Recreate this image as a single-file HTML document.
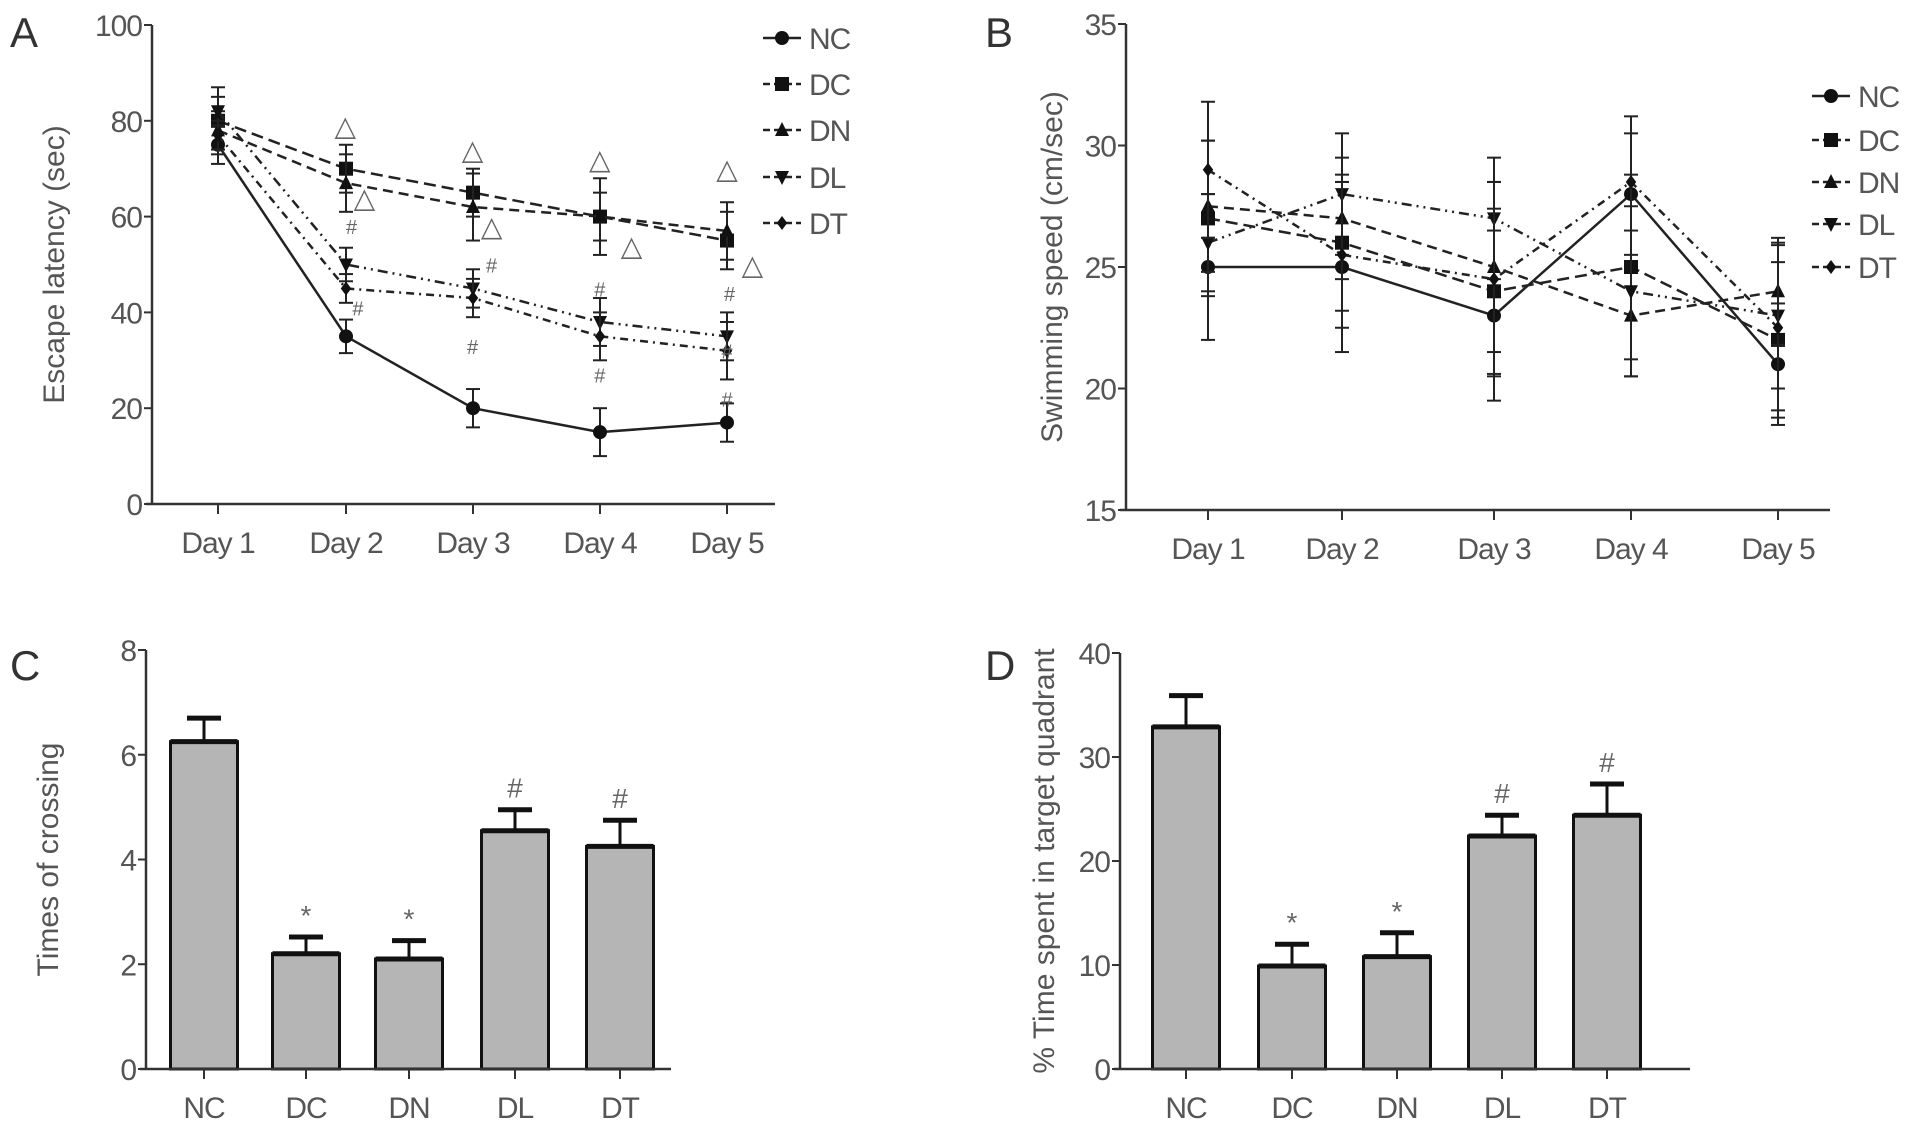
<!DOCTYPE html>
<html><head><meta charset="utf-8"><style>
html,body{margin:0;padding:0;background:#fff;}
svg{display:block;font-family:"Liberation Sans",sans-serif;}
</style></head><body>
<svg id="fig" width="1913" height="1131" viewBox="0 0 1913 1131"></svg>
<script>
const days = ["Day 1","Day 2","Day 3","Day 4","Day 5"];
const groups = ["NC","DC","DN","DL","DT"];
// Panel A escape latency
const aNC = [75,35,20,15,17], aNCe = [4,3.5,4,5,4];
const aDC = [80,70,65,60,55], aDCe = [7,5,5,8,6];
const aDN = [78,67,62,60,57], aDNe = [4,6,7,5,6];
const aDL = [82,50,45,38,35], aDLe = [3,3.5,4,5,5];
const aDT = [77,45,43,35,32], aDTe = [3,3,4,5,6];
const aTicks = [0,20,40,60,80,100];
// Panel B swimming speed
const bNC = [25,25,23,28,21], bNCe = [3,3.5,3.5,3.2,2.5];
const bDC = [27,26,24,25,22], bDCe = [3.2,2.8,3.4,3.8,3.2];
const bDN = [27.5,27,25,23,24], bDNe = [2.7,2.5,3.5,2.5,2.2];
const bDL = [26,28,27,24,23], bDLe = [2,2.5,2.5,3.5,3];
const bDT = [29,25.5,24.5,28.5,22.5], bDTe = [2.8,3,4,2,3.4];
const bTicks = [15,20,25,30,35];
// Panel C times of crossing
const cVals = [6.25,2.2,2.1,4.55,4.25], cErr = [0.45,0.32,0.35,0.4,0.5];
const cTicks = [0,2,4,6,8];
// Panel D time in target quadrant
const dVals = [32.9,9.9,10.8,22.4,24.4], dErr = [3,2.1,2.3,2,3];
const dTicks = [0,10,20,30,40];

const svg = document.getElementById('fig');
const NS = 'http://www.w3.org/2000/svg';
function el(tag, attrs, parent, text){
  const e = document.createElementNS(NS, tag);
  for (const k in attrs) e.setAttribute(k, attrs[k]);
  if (text !== undefined) e.textContent = text;
  (parent || svg).appendChild(e);
  return e;
}
const GREY = '#555';
function axes(g, x0, x1, yTop, yBot, ticks, yScale, xs, xLabels, title, titleX, panel, panelX, panelY){
  let e = el('line',{x1:x0,y1:yTop,x2:x0,y2:yBot,stroke:'#333','stroke-width':2.5},g);
   
  e = el('line',{x1:x0-6,y1:yBot,x2:x1,y2:yBot,stroke:'#333','stroke-width':2.5},g);
   
  ticks.forEach(t=>{
    const y = yScale(t);
    el('line',{x1:x0-8,y1:y,x2:x0,y2:y,stroke:'#333','stroke-width':2},g);
    const tx = el('text',{x:x0-10,y:y+11,'text-anchor':'end','font-size':30,fill:GREY,'letter-spacing':-1},g,t);
     
  });
  xs.forEach((x,i)=>{
    el('line',{x1:x,y1:yBot,x2:x,y2:yBot+10,stroke:'#333','stroke-width':2},g);
    const tx = el('text',{x:x,y:yBot+49,'text-anchor':'middle','font-size':30,fill:GREY,'letter-spacing':-1},g,xLabels[i]);
     
  });
  const cy = (yTop+yBot)/2;
  const tt = el('text',{x:titleX,y:cy,'text-anchor':'middle','font-size':30,fill:GREY,transform:`rotate(-90 ${titleX} ${cy})`},g,title);
   
  const pl = el('text',{x:panelX,y:panelY,'font-size':42,fill:'#333'},g,panel);
   
}
function marker(g, type, x, y, s){
  s = s||7;
  if (type==='circle') return el('circle',{cx:x,cy:y,r:s},g);
  if (type==='square') return el('rect',{x:x-s,y:y-s,width:2*s,height:2*s},g);
  if (type==='up') return el('polygon',{points:`${x},${y-s-1} ${x-s},${y+s-1} ${x+s},${y+s-1}`},g);
  if (type==='down') return el('polygon',{points:`${x},${y+s+1} ${x-s},${y-s+1} ${x+s},${y-s+1}`},g);
  return el('polygon',{points:`${x},${y-s} ${x-s*0.75},${y} ${x},${y+s} ${x+s*0.75},${y}`},g);
}
const series = [
  {name:'NC',type:'circle',dash:''},
  {name:'DC',type:'square',dash:'12 6'},
  {name:'DN',type:'up',dash:'10 6'},
  {name:'DL',type:'down',dash:'10 5 2 5 2 5'},
  {name:'DT',type:'diamond',dash:'8 5 2 5'}
];
function lineChart(g, xs, yScale, data, errs){
  data.forEach((vals,si)=>{
    const sg = el('g',{},g);
    
    
    const pts = vals.map((v,i)=>xs[i]+','+yScale(v)).join(' ');
    el('polyline',{points:pts,fill:'none',stroke:'#222','stroke-width':2.5,'stroke-dasharray':series[si].dash},sg);
    vals.forEach((v,i)=>{
      const x=xs[i], y1=yScale(v+errs[si][i]), y2=yScale(v-errs[si][i]);
      el('line',{x1:x,y1:y1,x2:x,y2:y2,stroke:'#222','stroke-width':2},sg);
      el('line',{x1:x-7,y1:y1,x2:x+7,y2:y1,stroke:'#222','stroke-width':2},sg);
      el('line',{x1:x-7,y1:y2,x2:x+7,y2:y2,stroke:'#222','stroke-width':2},sg);
      const m = marker(sg, series[si].type, x, yScale(v), 7);
      m.setAttribute('fill','#111');
      
      
    });
  });
}
function legend(g, x, ys){
  series.forEach((s,i)=>{
    const lg = el('g',{},g);
    
    
    el('line',{x1:x,y1:ys[i],x2:x+38,y2:ys[i],stroke:'#222','stroke-width':2.5,'stroke-dasharray':s.dash?'7 4':''},lg);
    marker(lg,s.type,x+19,ys[i],7).setAttribute('fill','#111');
    el('text',{x:x+46,y:ys[i]+11,'font-size':30,fill:GREY,'letter-spacing':-1},lg,s.name);
  });
}
function ann(g, x, y, ch, size, name){
  const t = el('text',{x:x,y:y,'text-anchor':'middle','font-size':size,fill:'#666'},g,ch);
   
}

// Panel A
(function(){
  const g = el('g',{});  
  const y = v => 504 - (v-0)/100*(504-25);
  const xs = [218,346,473,600,727];
  axes(g,152,775,25,504,aTicks,y,xs,days,'Escape latency (sec)',64,'A',10,47);
  lineChart(g,xs,y,[aNC,aDC,aDN,aDL,aDT],[aNCe,aDCe,aDNe,aDLe,aDTe]);
  legend(g,763,[38,84,130,177,223]);
  const tri = [[1,79],[1.15,64],[2,74],[2.15,58],[3,72],[3.25,54],[4,70],[4.2,50]];
  tri.forEach(p=>ann(g,xs[0]+p[0]*127.25,y(p[1])+10,'△',28,'significance-triangle'));
  const hash = [[1.05,58],[1.1,41],[2.15,50],[2,33],[3,45],[3,27],[4.02,44],[4,32],[4,22]];
  hash.forEach(p=>ann(g,xs[0]+p[0]*127.25,y(p[1])+8,'#',20,'significance-hash'));
})();
// Panel B
(function(){
  const g = el('g',{});  
  const y = v => 510 - (v-15)/20*(510-24);
  const xs = [1208,1342,1494,1631,1778];
  axes(g,1126,1830,24,510,bTicks,y,xs,days,'Swimming speed (cm/sec)',1062,'B',985,47);
  lineChart(g,xs,y,[bNC,bDC,bDN,bDL,bDT],[bNCe,bDCe,bDNe,bDLe,bDTe]);
  legend(g,1812,[96,140,182,224,267]);
})();
// bar panels
function barPanel(name, x0, x1, yTop, yBot, ticks, vals, errs, xs, title, titleX, panel, panelX, marks){
  const g = el('g',{});  
  const max = ticks[ticks.length-1];
  const y = v => yBot - v/max*(yBot-yTop);
  vals.forEach((v,i)=>{
    const w = 67, x = xs[i];
    const r = el('rect',{x:x-w/2,y:y(v),width:w,height:yBot-y(v),fill:'#b5b5b5',stroke:'#111','stroke-width':3},g);
     
    el('line',{x1:x-w/2,y1:y(v),x2:x+w/2,y2:y(v),stroke:'#111','stroke-width':5},g);
    const ye = y(v+errs[i]);
    el('line',{x1:x,y1:y(v),x2:x,y2:ye,stroke:'#111','stroke-width':3},g);
    el('line',{x1:x-17,y1:ye,x2:x+17,y2:ye,stroke:'#111','stroke-width':5},g);
    if (marks[i]) ann(g,x,ye-12,marks[i],28,'significance-mark');
  });
  axes(g,x0,x1,yTop,yBot,ticks,y,xs,groups,title,titleX,panel,panelX,680);
}
barPanel('panel-c',146,671,650,1069,cTicks,cVals,cErr,[204,306,409,515,620],'Times of crossing',58,'C',10,['','*','*','#','#']);
barPanel('panel-d',1120,1690,653,1069,dTicks,dVals,dErr,[1186,1292,1397,1502,1607],'% Time spent in target quadrant',1054,'D',985,['','*','*','#','#']);
</script>
</body></html>
